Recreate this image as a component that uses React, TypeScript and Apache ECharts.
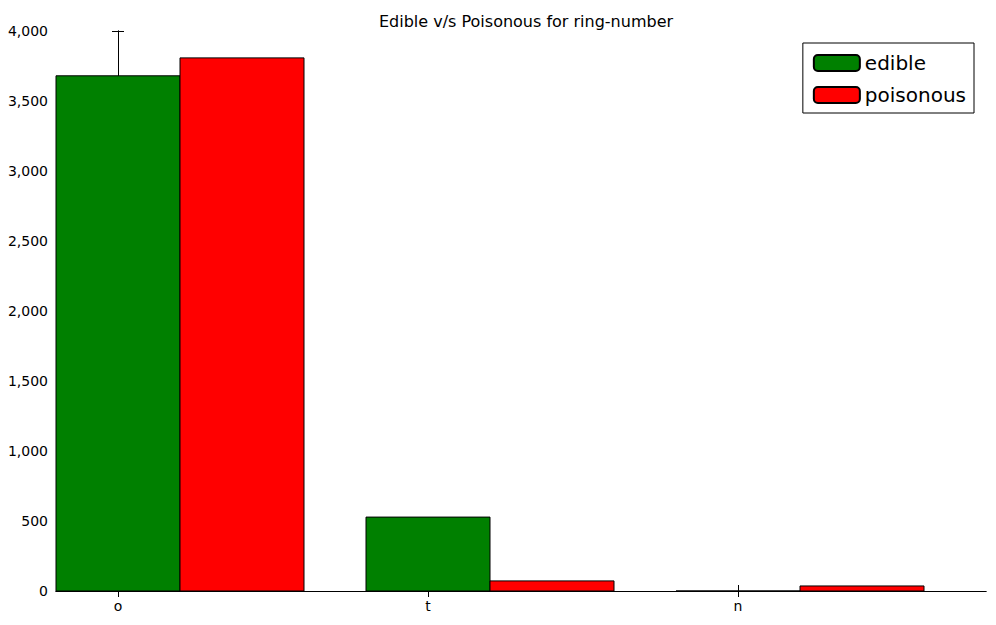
import { useEffect, useRef } from 'react'
import * as echarts from 'echarts'

const categories = ['o', 't', 'n']
const edible = [3680, 528, 0]
const poisonous = [3808, 72, 36]
const barWidth = 0.4

export default function App() {
  const chartRef = useRef<HTMLDivElement>(null)

  useEffect(() => {
    if (!chartRef.current) return
    const chart = echarts.init(chartRef.current, null, { renderer: 'svg' })

    const makeRender = (fill: string) => (params: any, api: any) => {
      const x = api.value(0)
      const y = api.value(1)
      const p0 = api.coord([x - barWidth / 2, y])
      const p1 = api.coord([x + barWidth / 2, 0])
      return {
        type: 'rect',
        shape: { x: p0[0], y: p0[1], width: p1[0] - p0[0], height: p1[1] - p0[1] },
        style: { fill, stroke: '#000', lineWidth: 1 },
      }
    }

    const tickVals = categories.map((_, i) => i)
    const xBase = {
      type: 'value',
      min: -0.2,
      max: 2.8,
      axisLine: { show: true, lineStyle: { color: '#000' } },
      splitLine: { show: false },
      axisTick: { show: true, inside: true, length: 6, customValues: tickVals, lineStyle: { color: '#000' } },
    }
    const yBase = {
      type: 'value',
      min: 0,
      max: 4000,
      interval: 500,
      axisLine: { show: true, lineStyle: { color: '#000' } },
      splitLine: { show: false },
      axisTick: { show: true, inside: true, length: 6, lineStyle: { color: '#000' } },
    }

    chart.setOption({
      animation: false,
      textStyle: { fontFamily: 'DejaVu Sans' },
      title: {
        text: 'Edible v/s Poisonous for ring-number',
        left: 521,
        textAlign: 'center',
        top: 8,
        textStyle: { fontSize: 16, fontWeight: 'normal', color: '#000' },
      },
      grid: { left: 56, right: 10, top: 31, bottom: 34 },
      legend: {
        right: 22,
        top: 43,
        orient: 'vertical',
        itemWidth: 46,
        itemHeight: 16,
        itemGap: 12,
        padding: [10, 8, 8, 10],
        borderColor: '#000',
        borderWidth: 1,
        textStyle: { fontSize: 20, color: '#000' },
        data: ['edible', 'poisonous'],
      },
      xAxis: [
        {
          ...xBase,
          position: 'bottom',
          axisLabel: {
            customValues: tickVals,
            formatter: (v: number) => categories[Math.round(v)] ?? '',
            fontSize: 14,
            color: '#000',
            margin: 8,
          },
        },
        { ...xBase, position: 'top', axisLabel: { show: false } },
      ],
      yAxis: [
        { ...yBase, position: 'left', axisLabel: { fontSize: 14, color: '#000', margin: 8 } },
        { ...yBase, position: 'right', axisLabel: { show: false } },
      ],
      series: [
        {
          name: 'edible',
          type: 'custom',
          renderItem: makeRender('green'),
          itemStyle: { color: 'green', borderColor: '#000', borderWidth: 1 },
          data: edible.map((v, i) => [i, v]),
        },
        {
          name: 'poisonous',
          type: 'custom',
          renderItem: makeRender('red'),
          itemStyle: { color: 'red', borderColor: '#000', borderWidth: 1 },
          data: poisonous.map((v, i) => [i + barWidth, v]),
        },
      ],
    })

    return () => chart.dispose()
  }, [])

  return (
    <div
      ref={chartRef}
      style={{ position: 'fixed', left: 0, top: 0, width: 996, height: 625, background: '#fff' }}
    />
  )
}
